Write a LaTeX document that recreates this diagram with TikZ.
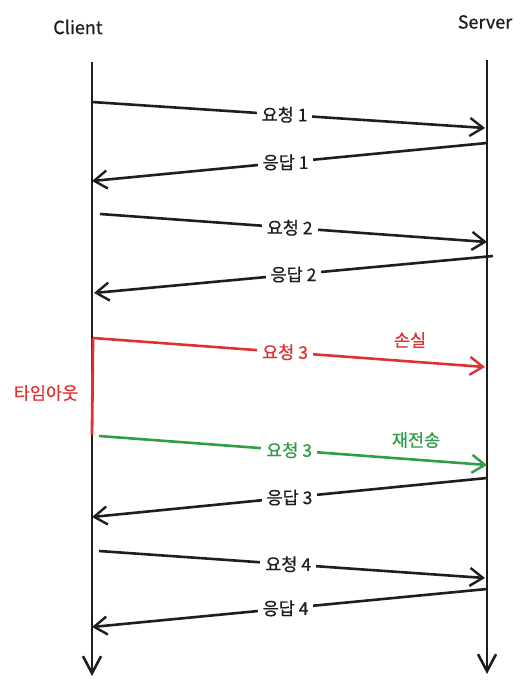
\documentclass[tikz,border=0pt]{standalone}
\usepackage{fontspec}
\setmainfont{Noto Sans CJK KR}[FakeBold=0.6]
\usepackage{tikz}
\usetikzlibrary{arrows.meta}
\definecolor{ink}{RGB}{30,30,30}
\definecolor{lost}{RGB}{224,49,49}
\definecolor{resend}{RGB}{47,158,68}

\begin{document}
\begin{tikzpicture}[
  x=1pt,y=-1pt,
  font=\fontsize{17.5}{20}\selectfont,
  life/.style={ink,line width=2.8pt,-{Straight Barb[length=17pt,width=18pt,line width=2.6pt]}},
  msg/.style={ink,line width=2.6pt,-{Straight Barb[length=13pt,width=18pt,line width=2.4pt]}},
  lbl/.style={fill=white,inner xsep=5pt,inner ysep=2pt,text=ink},
  head/.style={font=\fontsize{18}{20}\selectfont,text=ink},
  note/.style={font=\fontsize{17.5}{20}\selectfont},
]
\useasboundingbox (0,0) rectangle (531,691);

% lifelines
\node[head] (client) at (78,27) {Client};
\node[head] (server) at (485,22) {Server};
\coordinate (ctop) at (92,62);
\coordinate (cbot) at (92,676);
\coordinate (stop) at (487,60);
\coordinate (sbot) at (487,674);
\draw[life] (ctop) -- (cbot);
\draw[life] (stop) -- (sbot);

% end points on the lifelines
\coordinate (c1) at (92,102);  \coordinate (s1) at (485,128);
\coordinate (s2) at (487,143); \coordinate (c2) at (92,181);
\coordinate (c3) at (100,214); \coordinate (s3) at (487,242);
\coordinate (s4) at (493,256); \coordinate (c4) at (94,293);
\coordinate (c5) at (93,338);  \coordinate (s5) at (485,367);
\coordinate (c6) at (99,436);  \coordinate (s6) at (487,465);
\coordinate (s7) at (487,478); \coordinate (c7) at (92,517);
\coordinate (c8) at (99,551);  \coordinate (s8) at (485,578);
\coordinate (s9) at (487,589); \coordinate (c9) at (92,627);

\draw[msg] (c1) -- node[lbl,pos=0.49]{요청 1} (s1);
\draw[msg] (s2) -- node[lbl,pos=0.51]{응답 1} (c2);
\draw[msg] (c3) -- node[lbl,pos=0.49]{요청 2} (s3);
\draw[msg] (s4) -- node[lbl,pos=0.5]{응답 2} (c4);

% lost request, timeout, resend
\draw[lost,line width=2.8pt] (c5) -- (92,435);
\node[note,text=lost] (timeout) at (46,393) {타임아웃};
\draw[msg,lost] (c5) -- node[lbl,text=lost,pos=0.49]{요청 3} (s5);
\node[note,text=lost] (loss) at (410,340) {손실};
\draw[msg,resend] (c6) -- node[lbl,text=resend,pos=0.49]{요청 3} (s6);
\node[note,text=resend] (retry) at (416,440) {재전송};

\draw[msg] (s7) -- node[lbl,pos=0.5]{응답 3} (c7);
\draw[msg] (c8) -- node[lbl,pos=0.49]{요청 4} (s8);
\draw[msg] (s9) -- node[lbl,pos=0.51]{응답 4} (c9);
\end{tikzpicture}
\end{document}
